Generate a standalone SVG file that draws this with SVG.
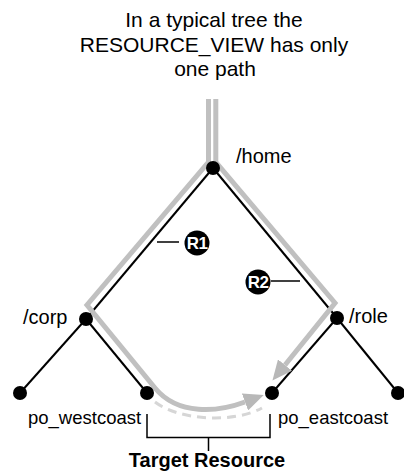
<svg xmlns="http://www.w3.org/2000/svg" width="404" height="474" viewBox="0 0 404 474">
<style>
text{font-family:"Liberation Sans",Arial,Helvetica,sans-serif;fill:#000}
.title{font-size:21px;text-anchor:middle}
.lbl{font-size:20px}
.leaf{font-size:18.5px}
.bold{font-size:20px;font-weight:bold;text-anchor:middle}
.badge{font-size:17px;font-weight:bold;fill:#fff;text-anchor:middle;letter-spacing:-0.5px}
.edge{stroke:#000;stroke-width:2;fill:none}
.hl{stroke:#c0c0c0;stroke-width:5;fill:none;stroke-linejoin:miter}
.dash{stroke:#d6d6d6;stroke-width:3;fill:none;stroke-dasharray:9 6}
.dot{fill:#000}
.tick{stroke:#000;stroke-width:1.5;fill:none}
</style>
<defs>
<marker id="ah" markerUnits="userSpaceOnUse" markerWidth="20" markerHeight="18" refX="0" refY="9" orient="auto">
<path d="M0,0 L20,9 L0,18 z" fill="#b8b8b8"/>
</marker>
</defs>
<g id="title">
<text class="title" x="214" y="27">In a typical tree the</text>
<text class="title" x="214" y="51.5">RESOURCE_VIEW has only</text>
<text class="title" x="215" y="76">one path</text>
</g>
<g id="connectors">
<line class="edge" x1="213" y1="168" x2="86" y2="319"/>
<line class="edge" x1="213" y1="168" x2="337" y2="318"/>
<line class="edge" x1="86" y1="319" x2="20" y2="393"/>
<line class="edge" x1="86" y1="319" x2="147" y2="393"/>
<line class="edge" x1="337" y1="318" x2="272" y2="393"/>
<line class="edge" x1="337" y1="318" x2="398" y2="393"/>
<path class="hl" d="M208.5,99 L208.5,162 L87,305 L155,388 C178,416 218,412 245,402" stroke="#bababa" marker-end="url(#ah)"/>
<path class="hl" d="M215.8,99 L215.8,162 L335,303 L285,365" marker-end="url(#ah)"/>
<path class="dash" d="M155,402 C180,421 235,423 262,408"/>
<line class="tick" x1="157" y1="242" x2="179" y2="242"/>
<line class="tick" x1="271" y1="281" x2="300" y2="281"/>
<path class="tick" d="M147,414 V437.5 H270 V414 M208.5,437.5 V451"/>
</g>
<g id="home"><circle class="dot" cx="213" cy="168" r="7"/><text class="lbl" x="236" y="163">/home</text></g>
<g id="corp"><circle class="dot" cx="86" cy="319" r="7"/><text class="lbl" x="23" y="324">/corp</text></g>
<g id="role"><circle class="dot" cx="337" cy="318" r="7"/><text class="lbl" x="349" y="323">/role</text></g>
<g id="leaf1"><circle class="dot" cx="20" cy="393" r="7"/></g>
<g id="po_westcoast"><circle class="dot" cx="147" cy="393" r="7"/><text class="leaf" x="28" y="424">po_westcoast</text></g>
<g id="po_eastcoast"><circle class="dot" cx="272" cy="393" r="7"/><text class="leaf" x="278" y="424">po_eastcoast</text></g>
<g id="leaf4"><circle class="dot" cx="398" cy="393" r="7"/></g>
<g id="R1"><circle cx="197" cy="243" r="12.5"/><text class="badge" x="197" y="249">R1</text></g>
<g id="R2"><circle cx="258" cy="282" r="12.5"/><text class="badge" x="258" y="288">R2</text></g>
<g id="target"><text class="bold" x="207" y="467">Target Resource</text></g>
</svg>
